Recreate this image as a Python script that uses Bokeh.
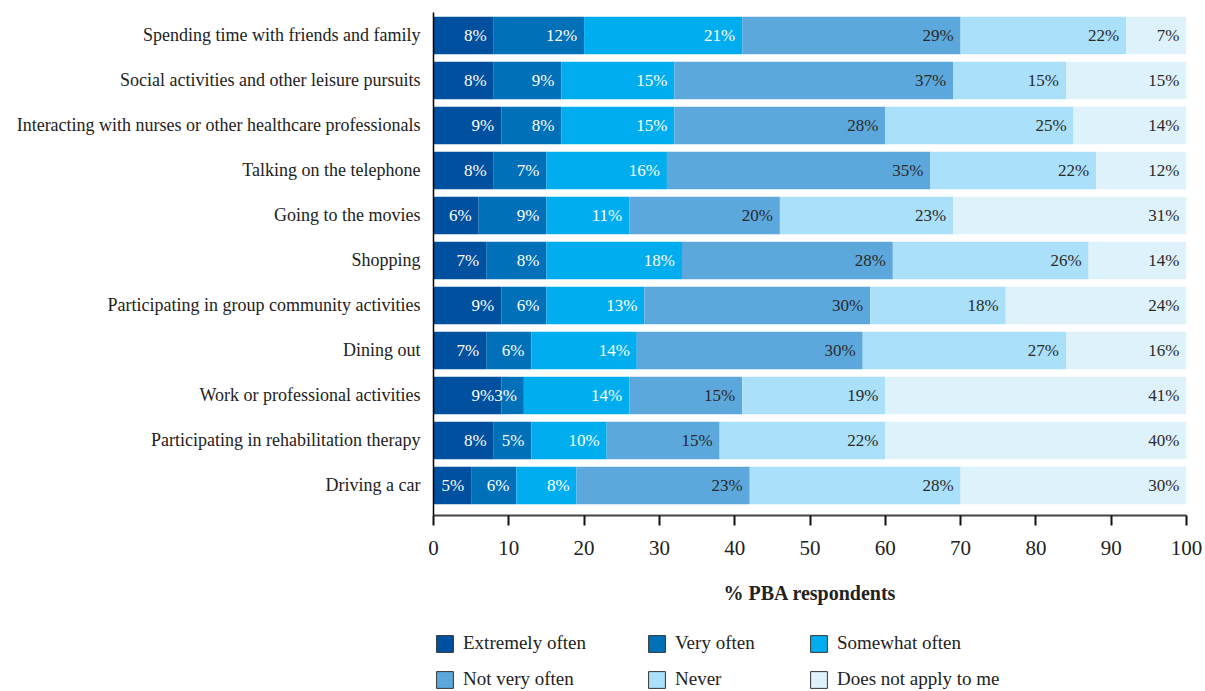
from bokeh.plotting import figure
from bokeh.layouts import column
from bokeh.models import ColumnDataSource, Range1d, FixedTicker, Legend, LegendItem
from bokeh.embed import file_html
from bokeh.resources import INLINE

categories = [
    "Spending time with friends and family",
    "Social activities and other leisure pursuits",
    "Interacting with nurses or other healthcare professionals",
    "Talking on the telephone",
    "Going to the movies",
    "Shopping",
    "Participating in group community activities",
    "Dining out",
    "Work or professional activities",
    "Participating in rehabilitation therapy",
    "Driving a car",
]
series_names = ["Extremely often", "Very often", "Somewhat often",
                "Not very often", "Never", "Does not apply to me"]

# bar widths as drawn (% respondents)
extremely_often = [8, 8, 9, 8, 6, 7, 9, 7, 9, 8, 5]
very_often = [12, 9, 8, 7, 9, 8, 6, 6, 3, 5, 6]
somewhat_often = [21, 15, 15, 16, 11, 18, 13, 14, 14, 10, 8]
not_very_often = [29, 37, 28, 35, 20, 28, 30, 30, 15, 15, 23]
never = [22, 15, 25, 22, 23, 26, 18, 27, 19, 22, 28]
does_not_apply = [8, 16, 15, 12, 31, 13, 24, 16, 40, 40, 30]
# printed labels where they differ from drawn widths
does_not_apply_label = [7, 15, 14, 12, 31, 14, 24, 16, 41, 40, 30]

series = [extremely_often, very_often, somewhat_often, not_very_often, never, does_not_apply]
labels = [extremely_often, very_often, somewhat_often, not_very_often, never, does_not_apply_label]
colors = ["#0050a0", "#0070b8", "#00aeef", "#5ca8dc", "#aae0f9", "#def2fc"]
text_colors = ["#ffffff", "#ffffff", "#ffffff", "#2a2a2a", "#2a2a2a", "#2a2a2a"]

FONT = "Liberation Serif"
n = len(categories)
ypos = [n - 1 - i for i in range(n)]

p = figure(width=1205, height=620, x_range=Range1d(0, 100),
           y_range=Range1d(-0.667, 10.511),
           output_backend="svg", toolbar_location=None,
           min_border_left=433, min_border_right=19, min_border_top=12,
           min_border_bottom=105)
p.outline_line_color = None
p.grid.visible = False
p.background_fill_color = "white"
p.border_fill_color = "white"

# legend strip below the chart (its frame is aligned with the main frame)
pl = figure(width=1205, height=71, x_range=Range1d(0, 100), y_range=Range1d(50, 51),
            output_backend="svg", toolbar_location=None,
            x_axis_location=None, y_axis_location=None,
            min_border_left=433, min_border_right=19, min_border_top=0,
            min_border_bottom=0)
pl.outline_line_color = None
pl.grid.visible = False

left = [0.0] * n
swatches = []
for k, (vals, labs) in enumerate(zip(series, labels)):
    right = [l + v for l, v in zip(left, vals)]
    src = ColumnDataSource(dict(y=ypos, left=left, right=right,
                                lab=[f"{v}%" for v in labs]))
    p.hbar(y="y", left="left", right="right", height=0.83, source=src,
           fill_color=colors[k], line_color=None)
    p.text(x="right", y="y", text="lab", source=src, text_align="right",
           text_baseline="middle", x_offset=-7, text_font_size="17px",
           text_font={"value": FONT}, text_color=text_colors[k])
    # outlined swatch for the legend (its bars fall outside the strip's view)
    swatches.append(pl.hbar(y="y", left="left", right="right", height=0.83,
                            source=src, fill_color=colors[k],
                            line_color="#333333", line_width=1))
    left = right

# axes
xa = p.xaxis[0]
xa.ticker = FixedTicker(ticks=list(range(0, 101, 10)))
xa.axis_line_color = "#444444"
xa.axis_line_width = 2
xa.major_tick_out = 10
xa.major_tick_in = 0
xa.major_tick_line_width = 2
xa.major_tick_line_color = "#111111"
xa.minor_tick_line_color = None
xa.major_label_text_font = FONT
xa.major_label_text_font_size = "21px"
xa.major_label_text_color = "#222222"
xa.major_label_standoff = 15
xa.axis_label = "% PBA respondents"
xa.axis_label_text_font = FONT
xa.axis_label_text_font_size = "20px"
xa.axis_label_text_font_style = "bold"
xa.axis_label_text_color = "#222222"
xa.axis_label_standoff = 24

ya = p.yaxis[0]
ya.ticker = FixedTicker(ticks=ypos)
ya.major_label_overrides = {y: c for y, c in zip(ypos, categories)}
ya.axis_line_color = "#000000"
ya.axis_line_width = 1.5
ya.major_tick_line_color = None
ya.minor_tick_line_color = None
ya.major_label_standoff = 7
ya.major_label_text_font = FONT
ya.major_label_text_font_size = "18px"
ya.major_label_text_color = "#222222"

col_x = [1, 213, 375]
for c in range(3):
    its = [LegendItem(label=series_names[c], renderers=[swatches[c]]),
           LegendItem(label=series_names[c + 3], renderers=[swatches[c + 3]])]
    lg = Legend(items=its, location=(col_x[c], 1),
                label_text_font=FONT, label_text_font_size="19px",
                label_text_color="#222222", glyph_width=21, glyph_height=21,
                label_standoff=8, spacing=14, padding=0, margin=0,
                border_line_color=None, background_fill_alpha=0)
    pl.add_layout(lg)

layout = column(p, pl, spacing=0)
open("out.html", "w").write(file_html(layout, INLINE))
